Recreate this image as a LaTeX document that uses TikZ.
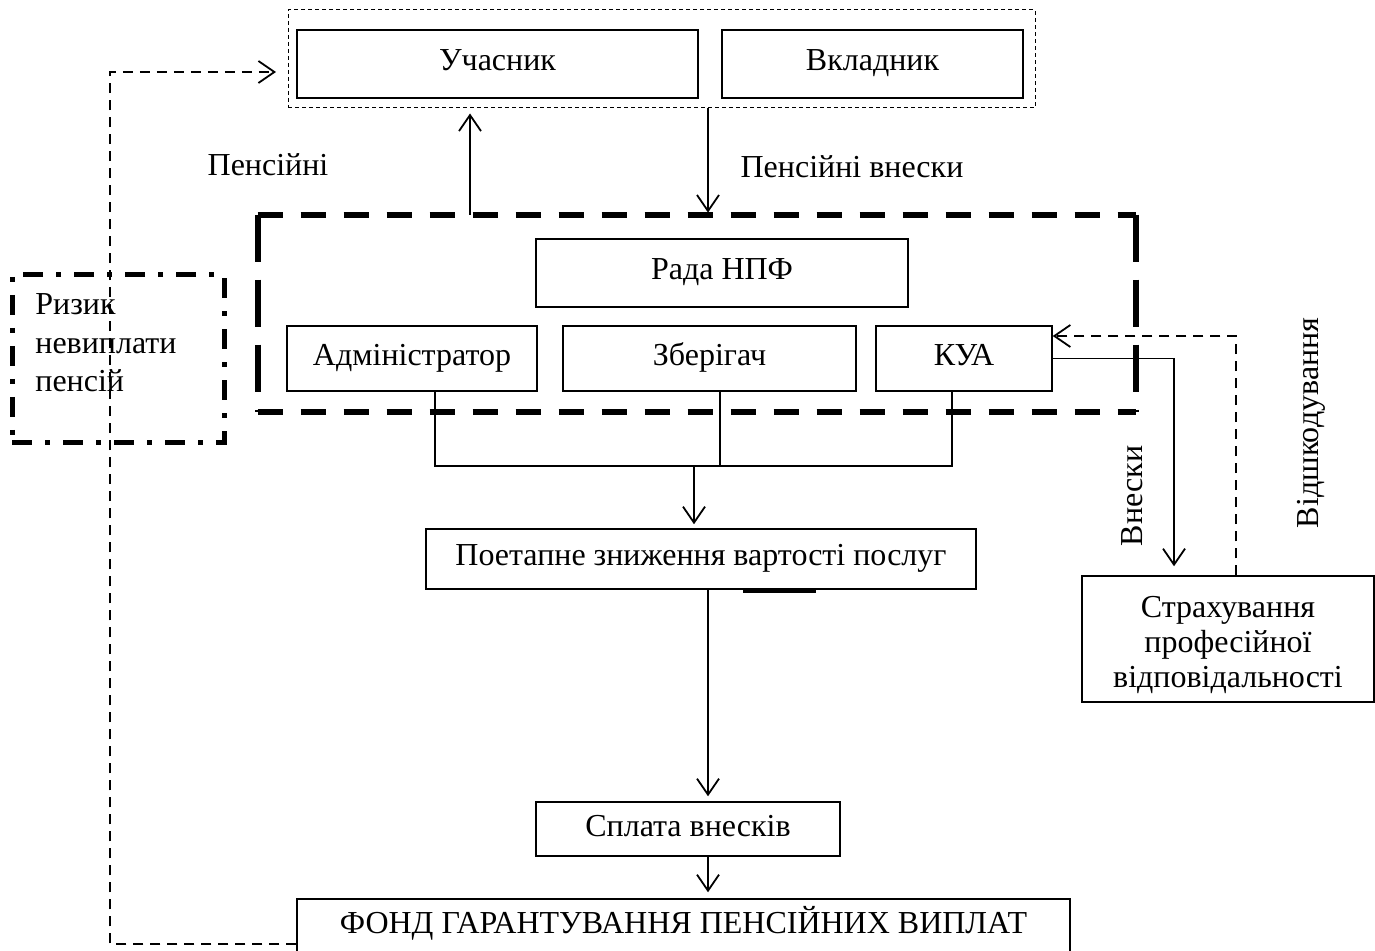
\documentclass[tikz,border=0pt]{standalone}
\usepackage{fontspec}
\setmainfont{Liberation Serif}
\usetikzlibrary{arrows.meta,fit,calc}
\begin{document}
\begin{tikzpicture}[x=0.5pt,y=-0.5pt,
  every node/.style={font=\fontsize{16}{19}\selectfont},
  box/.style={draw, line width=0.75pt, inner sep=0pt, text height=11.5pt, text depth=4.5pt},
  plainline/.style={line width=0.9pt},
  arr/.style={line width=0.9pt, -{Straight Barb[length=8pt,width=11pt,line width=0.9pt]}},
  darr/.style={line width=0.7pt, dash pattern=on 5pt off 3.5pt, -{Straight Barb[length=8pt,width=11pt,line width=0.9pt]}},
  thickh/.style={line width=3pt, dash pattern=on 12.5pt off 9pt},
  thickv/.style={line width=3pt, dash pattern=on 23.5pt off 9pt},
  riskbox/.style={draw, inner sep=0pt, line width=2.5pt, dash pattern=on 10pt off 6.5pt on 2.5pt off 6.5pt},
  grpbox/.style={draw, inner sep=0pt, line width=0.5pt, dash pattern=on 2pt off 1.5pt}
]
\fill[white] (0,0) rectangle (1375,951);
\path[use as bounding box] (0,0) rectangle (1375,951);
\clip (0,0) rectangle (1375,951);

% top group
\node[grpbox, fit={(288,10) (1035,108)}] (grp) {};
\node[box, minimum width=200.5pt, minimum height=34pt] (uch) at (497.5,64) {Учасник};
\node[box, minimum width=150.5pt, minimum height=34pt] (vkl) at (872.5,64) {Вкладник};

% big dashed box
\node[inner sep=0pt, fit={(258,215) (1136,412)}] (big) {};
\draw[thickh] (big.north west) -- (big.north east);
\draw[thickh] (big.south west) -- (big.south east);
\draw[thickv] (big.north west) -- (big.south west);
\draw[thickv] (big.north east) -- (big.south east);

\node[box, minimum width=186pt, minimum height=34pt] (rada) at (722,273) {Рада НПФ};
\node[box, minimum width=125pt, minimum height=32.5pt] (adm) at (412,358.5) {Адміністратор};
\node[box, minimum width=146.5pt, minimum height=32.5pt] (zb) at (709.5,358.5) {Зберігач};
\node[box, minimum width=88pt, minimum height=32.5pt] (kua) at (964,358.5) {КУА};

\node[box, minimum width=275pt, minimum height=30pt] (poet) at (701,559) {Поетапне зниження вартості послуг};
\draw[line width=1.5pt] (743,591) -- (816,591);
\node[box, minimum width=152pt, minimum height=27pt] (spl) at (688,829) {Сплата внесків};
\node[box, minimum width=386.5pt, minimum height=27pt] (fond) at (683.5,926) {ФОНД ГАРАНТУВАННЯ ПЕНСІЙНИХ ВИПЛАТ};

\node[draw, line width=0.75pt, inner sep=0pt, minimum width=146pt, minimum height=63pt] (str) at (1228,639) {};
\node[align=center, inner sep=0pt, font=\fontsize{16}{17.5}\selectfont] (strtxt) at (1228,645) {Страхування\\професійної\\відповідальності};

% risk box
\node[riskbox, fit={(12,275) (224,443)}] (risk) {};
\node[anchor=west, align=left, inner sep=0pt, font=\fontsize{16}{19.25}\selectfont] (risktxt) at (35,343) {Ризик\\невиплати\\пенсій};

% labels
\node (lp) at (268,165) {Пенсійні};
\node (lpv) at (852,167) {Пенсійні внески};
\node[rotate=90] (lvn) at (1132,496) {Внески};
\node[rotate=90] (lvd) at (1311,423) {Відшкодування};

% coordinates
\coordinate (a1) at (470,0);
\coordinate (a2) at (708,0);
\coordinate (a3) at (708,0);
\coordinate (j1) at (435,466);
\coordinate (j2) at (720,466);
\coordinate (j3) at (952,466);
\coordinate (j4) at (694,466);
\coordinate (sx) at (1174,0);
\coordinate (v1) at (1236,336);
\coordinate (dl) at (110,944);
\coordinate (gA) at (276,72);

% connectors
\draw[arr, shorten >=2.5pt] (big.north -| a1) -- (grp.south -| a1);
\draw[arr, shorten >=1pt] (grp.south -| a2) -- (big.north -| a2);

\draw[plainline] (adm.south -| j1) -- (j1) -- (j3) -- (kua.south -| j3);
\draw[plainline] (zb.south -| j2) -- (j2);
\draw[arr, shorten >=2pt] (j4) -- (poet.north -| j4);

\draw[arr, shorten >=2.5pt] (poet.south -| a3) -- (spl.north -| a3);
\draw[arr, shorten >=3pt] (spl.south -| a3) -- (fond.north -| a3);

\draw[arr, shorten >=4.5pt] (kua.east) -| (str.north -| sx);
\draw[darr] (str.north -| v1) |- (kua.east |- v1);

\draw[darr] (fond.west |- dl) -- (dl) |- (gA);
\end{tikzpicture}
\end{document}
